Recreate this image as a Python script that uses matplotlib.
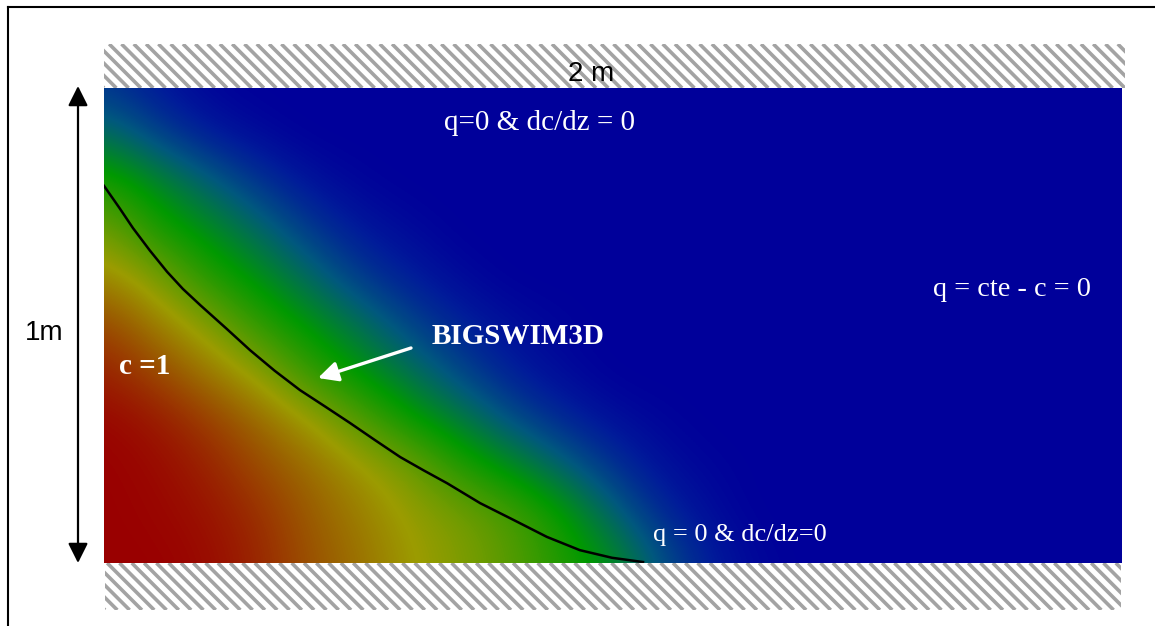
import numpy as np
import matplotlib.pyplot as plt
from matplotlib.colors import LinearSegmentedColormap
from matplotlib.patches import Rectangle

# concentration field (nodes every 0.1 m)
x_nodes = [0.0, 0.1, 0.2, 0.3, 0.4, 0.5, 0.6, 0.7, 0.8, 0.9, 1.0, 1.1, 1.2, 1.3, 1.4]
y_nodes = [0.0, 0.1, 0.2, 0.3, 0.4, 0.5, 0.6, 0.7, 0.8, 0.9, 1.0]
c_rows = [
    [1.00, 1.00, 0.98, 0.92, 0.82, 0.75, 0.66, 0.60, 0.52, 0.42, 0.33, 0.16, 0.05, 0.01, 0.00],
    [1.00, 0.99, 0.96, 0.90, 0.80, 0.72, 0.64, 0.58, 0.50, 0.38, 0.21, 0.08, 0.02, 0.00, 0.00],
    [1.00, 0.98, 0.93, 0.84, 0.76, 0.67, 0.58, 0.43, 0.33, 0.21, 0.10, 0.03, 0.01, 0.00, 0.00],
    [0.99, 0.95, 0.87, 0.77, 0.66, 0.52, 0.38, 0.28, 0.16, 0.08, 0.03, 0.01, 0.00, 0.00, 0.00],
    [0.93, 0.85, 0.74, 0.63, 0.46, 0.35, 0.25, 0.14, 0.06, 0.02, 0.00, 0.00, 0.00, 0.00, 0.00],
    [0.85, 0.73, 0.61, 0.45, 0.35, 0.25, 0.14, 0.07, 0.03, 0.01, 0.00, 0.00, 0.00, 0.00, 0.00],
    [0.71, 0.60, 0.43, 0.34, 0.23, 0.12, 0.06, 0.02, 0.00, 0.00, 0.00, 0.00, 0.00, 0.00, 0.00],
    [0.58, 0.41, 0.33, 0.23, 0.12, 0.05, 0.02, 0.00, 0.00, 0.00, 0.00, 0.00, 0.00, 0.00, 0.00],
    [0.42, 0.32, 0.21, 0.11, 0.04, 0.01, 0.00, 0.00, 0.00, 0.00, 0.00, 0.00, 0.00, 0.00, 0.00],
    [0.25, 0.14, 0.06, 0.02, 0.00, 0.00, 0.00, 0.00, 0.00, 0.00, 0.00, 0.00, 0.00, 0.00, 0.00],
    [0.11, 0.05, 0.01, 0.00, 0.00, 0.00, 0.00, 0.00, 0.00, 0.00, 0.00, 0.00, 0.00, 0.00, 0.00],
]

# front (black line), in metres
front_x = [0.0, 0.03, 0.057, 0.09, 0.124, 0.155, 0.189, 0.24, 0.287, 0.335, 0.385, 0.435,
           0.483, 0.532, 0.582, 0.628, 0.674, 0.739, 0.804, 0.870, 0.935, 0.998, 1.059]
front_y = [0.794, 0.748, 0.705, 0.658, 0.613, 0.577, 0.543, 0.494, 0.448, 0.405, 0.364, 0.329,
           0.295, 0.259, 0.223, 0.195, 0.168, 0.126, 0.091, 0.055, 0.027, 0.011, 0.002]

W, H = 1155, 626
fig = plt.figure(figsize=(W / 100, H / 100), dpi=100)

cmap = LinearSegmentedColormap.from_list(
    "conc", [(0.0, "#00009a"), (0.06, "#001d99"), (0.18, "#00587e"), (0.36, "#009900"),
             (0.65, "#9c9c00"), (1.0, "#990000")])

# field axes: domain 2 m x 1 m
ax = fig.add_axes([104 / W, (H - 563) / H, 1018 / W, 475 / H])
ax.add_patch(Rectangle((0, 0), 2, 1, facecolor=cmap(0.0), edgecolor="none", zorder=0))
dx = x_nodes[1] - x_nodes[0]
dy = y_nodes[1] - y_nodes[0]
ax.imshow(np.array(c_rows), origin="lower", cmap=cmap, vmin=0, vmax=1,
          interpolation="bicubic", aspect="auto", zorder=1,
          extent=[x_nodes[0] - dx / 2, x_nodes[-1] + dx / 2,
                  y_nodes[0] - dy / 2, y_nodes[-1] + dy / 2])
ax.plot(front_x, front_y, color="black", lw=1.8, zorder=2)
ax.set_xlim(0, 2)
ax.set_ylim(0, 1)
ax.axis("off")

# overlay in pixel coords for frame, walls, arrows and labels
ov = fig.add_axes([0, 0, 1, 1])
ov.set_xlim(0, W)
ov.set_ylim(H, 0)
ov.axis("off")

ov.plot([8, W], [7, 7], color="black", lw=1.5)
ov.plot([8, 8], [7, H], color="black", lw=1.5)


def wall(x0, x1, y0, y1):
    clip = Rectangle((x0, y0), x1 - x0, y1 - y0, facecolor="white", edgecolor="none")
    ov.add_patch(clip)
    h = y1 - y0
    for xs in np.arange(x0 - h, x1 + 12, 12.3):
        ln, = ov.plot([xs, xs + h], [y0, y1], color="#a3a3a3", lw=2.6,
                      solid_capstyle="butt")
        ln.set_clip_path(clip)


wall(104, 1125, 44, 88)
wall(105, 1121, 563, 610)

# 1 m dimension arrow
ov.annotate("", xy=(78, 86), xytext=(78, 563),
            arrowprops=dict(arrowstyle="<|-|>", color="black", lw=1.6,
                            mutation_scale=30, shrinkA=0, shrinkB=0))
ov.text(44, 333, "1m", fontsize=20, family="Liberation Sans", ha="center", va="center")
ov.text(591, 74, "2 m", fontsize=20, family="Liberation Sans", ha="center", va="center")

serif = "Liberation Serif"
ov.text(540, 123, "q=0 & dc/dz = 0", color="white", fontsize=21, family=serif,
        ha="center", va="center")
ov.text(1012, 289, "q = cte - c = 0", color="white", fontsize=20.3, family=serif,
        ha="center", va="center")
ov.text(740, 535, "q = 0 & dc/dz=0", color="white", fontsize=19, family=serif,
        ha="center", va="center")
ov.text(518, 336, "BIGSWIM3D", color="white", fontsize=21, family=serif,
        weight="bold", ha="center", va="center")
ov.text(145, 367, "c =1", color="white", fontsize=21, family=serif,
        weight="bold", ha="center", va="center")

ov.annotate("", xy=(318, 378), xytext=(411, 348),
            arrowprops=dict(arrowstyle="-|>", color="white", lw=2.4,
                            mutation_scale=30, shrinkA=0, shrinkB=0))

fig.savefig("out.png", dpi=100)
